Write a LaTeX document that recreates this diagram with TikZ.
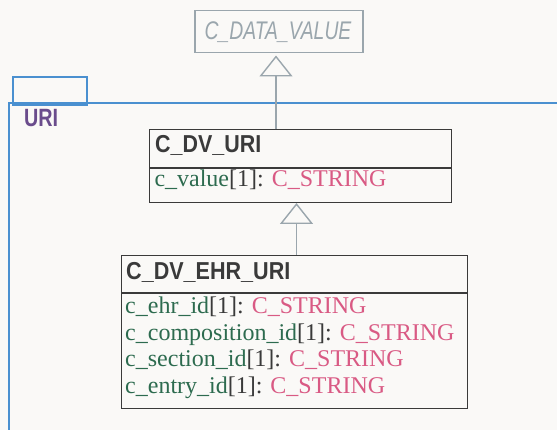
\documentclass[tikz,border=0pt]{standalone}
\usepackage{fontspec}
\usepackage{graphicx}
\setmainfont{Liberation Serif}
\newfontfamily\umlsans{Liberation Sans}
\usetikzlibrary{arrows.meta,positioning}
\definecolor{umlbg}{RGB}{250,249,247}
\definecolor{umlgrey}{RGB}{154,166,173}
\definecolor{umlblue}{RGB}{74,144,208}
\definecolor{umlpurple}{RGB}{106,76,140}
\definecolor{umldark}{RGB}{58,58,58}
\definecolor{umlgreen}{RGB}{45,107,79}
\definecolor{umlpink}{RGB}{217,90,132}

\newcommand{\umlattr}[1]{\textcolor{umlgreen}{#1}\textcolor{umldark}{[1]:} \textcolor{umlpink}{C\_STRING}}

\tikzset{
    classbox/.style={draw=umldark, line width=1pt, rectangle, inner sep=0pt, anchor=north west},
    classname/.style={anchor=base west, inner sep=0pt, text=umldark, font=\umlsans\bfseries\fontsize{24.5}{28}\selectfont},
    attrtext/.style={anchor=base west, inner sep=0pt, font=\fontsize{24}{28}\selectfont},
    inherit/.style={draw=umlgrey, line width=1.4pt, -{Triangle[open, length=21pt, width=33pt, fill=umlbg]}},
}

\begin{document}
\begin{tikzpicture}[x=1pt, y=-1pt]
        \useasboundingbox (0,0) rectangle (557,430);
        \fill[umlbg] (0,0) rectangle (557,430);

        % abstract parent
        \node[classbox, draw=umlgrey, line width=1.5pt, minimum width=168pt, minimum height=42pt] (datavalue) at (194,10) {};
        \node[anchor=base, inner sep=0pt, text=umlgrey, font=\umlsans\itshape\fontsize{25.5}{28}\selectfont] (datavaluename) at (278,40) {\scalebox{0.76}[1]{C\_DATA\_VALUE}};

        % package URI
        \node[classbox, draw=umlblue, line width=2pt, minimum width=74pt, minimum height=28pt] (uritab) at (12,76) {};
        \draw[umlblue, line width=2pt] (562,103) -- (9.3,103) -- (9.3,435);
        \node[anchor=base west, inner sep=0pt, text=umlpurple, font=\umlsans\bfseries\fontsize{25}{28}\selectfont] (uriname) at (24,126.7) {\scalebox{0.79}[1]{URI}};

        % C_DV_URI
        \node[classbox, minimum width=302pt, minimum height=38pt] (dvhead) at (149,129.3) {};
        \node[classbox, minimum width=302pt, minimum height=33.7pt] (dvbody) at (dvhead.south west) {};
        \node[classname] (dvname) at (155,152.3) {\scalebox{0.875}[1]{C\_DV\_URI}};
        \node[attrtext] (dvvalue) at (154.3,186.7) {\umlattr{c\_value}};

        % C_DV_EHR_URI
        \node[classbox, minimum width=346.3pt, minimum height=37.3pt] (ehrhead) at (120.7,254.7) {};
        \node[classbox, minimum width=346.3pt, minimum height=114.7pt] (ehrbody) at (ehrhead.south west) {};
        \node[classname] (ehrname) at (126,279.3) {\scalebox{0.88}[1]{C\_DV\_EHR\_URI}};
        \node[attrtext] (ehrid) at (125,314) {\umlattr{c\_ehr\_id}};
        \node[attrtext] (compid) at (125,340.3) {\umlattr{c\_composition\_id}};
        \node[attrtext] (sectid) at (125,366.7) {\umlattr{c\_section\_id}};
        \node[attrtext] (entryid) at (125,393.5) {\umlattr{c\_entry\_id}};

        % generalisation
        \coordinate (gen1) at (276,0);
        \coordinate (gen2) at (296.5,0);
        \draw[inherit, shorten >=2pt] (gen1 |- dvhead.north) -- (gen1 |- datavalue.south);
        \draw[inherit] (gen2 |- ehrhead.north) -- (gen2 |- dvbody.south);
    \end{tikzpicture}
\end{document}
